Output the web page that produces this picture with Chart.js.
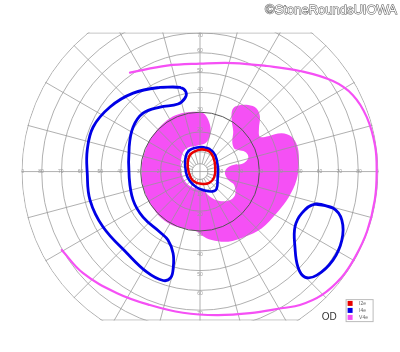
<!DOCTYPE html>
<html lang="en">
<head>
  <meta charset="UTF-8" />
  <title>Goldmann Visual Field OD</title>
  <style>
    * { margin: 0; padding: 0; box-sizing: border-box; }
    body { background: #fff; }
    .chart-box { width: 400px; height: 352px; position: relative; }
  </style>
</head>
<body>
  <div class="chart-box">
    <canvas id="fieldChart"></canvas>
  </div>
  <script src="https://cdn.jsdelivr.net/npm/chart.js"></script>
  <script>
    // isopters, in degrees [x, y] (x: right positive, y: up positive)
    const i2eRed = [
      [0.5, 11.2], [4.4, 10.4], [6.7, 7.3], [7.7, 2.3], [7.2, -2.8], [4.7, -5.7],
      [0.5, -6.2], [-3.7, -4.4], [-5.7, -0.3], [-6.2, 4.8], [-4.5, 9.0]
    ];
    const i4eCenter = [
      [0.5, 12.4], [4.7, 11.5], [7.7, 8.2], [8.9, 3.1], [8.9, -3.6], [8.4, -8.7],
      [6.4, -10.0], [2.2, -9.5], [-2.0, -7.8], [-5.4, -4.4], [-7.1, -0.3],
      [-7.4, 6.5], [-5.4, 10.7]
    ];
    const i4eLeft = [
      [-10.1, 42.5], [-20.2, 42.5], [-33.8, 39.6], [-45.5, 32.6], [-54.0, 22.5],
      [-57.0, 10.9], [-57.0, -0.8], [-55.6, -14.4], [-49.0, -28.0], [-36.9, -41.2],
      [-26.8, -50.8], [-18.7, -55.0], [-14.8, -53.6], [-13.5, -48.2], [-13.6, -41.2],
      [-16.2, -34.6], [-20.2, -30.6], [-28.8, -23.0], [-33.8, -14.4], [-35.8, -2.8],
      [-35.8, 12.4], [-33.8, 22.5], [-28.8, 29.5], [-20.2, 32.6], [-11.1, 34.1],
      [-7.6, 37.1], [-7.1, 40.2]
    ];
    const i4eRight = [
      [58.1, -16.4], [67.2, -18.4], [71.7, -24.5], [71.7, -34.6], [67.2, -44.7],
      [59.1, -52.3], [53.0, -53.3], [49.5, -48.2], [48.0, -38.1], [48.0, -28.0],
      [51.5, -21.0]
    ];
    const v4eOuter = [
      [-35.4, 50.0], [-16.7, 53.5], [0, 54.5], [16.7, 54.8], [33.8, 53.3],
      [50.5, 50.8], [67.2, 45.7], [77.3, 38.6], [84.3, 27.5], [88.5, 13.0],
      [89.3, 0], [88.4, -14.0], [84.5, -30.0], [78.5, -43.0], [71.5, -53.5],
      [61.5, -62.4], [50.5, -67.4], [41.9, -68.9], [25.3, -71.5], [8.6, -72.5],
      [-8.6, -71.3], [-25.3, -67.4], [-41.9, -61.4], [-59.1, -51.3], [-69.9, -39.6]
    ];
    const v4eArea = [
      [-9.3, 29.4], [-3.4, 30.2], [1.7, 29.4], [4.2, 26.0], [5.4, 21.0], [4.6, 16.8],
      [2.5, 14.2], [-1.7, 13.1], [-5.9, 12.2], [-8.4, 10.0], [-9.6, 5.8], [-9.6, 0.8],
      [-8.4, -3.5], [-5.9, -6.8], [-2.5, -8.5], [1.7, -9.7], [5.1, -12.7], [9.3, -14.7],
      [14.3, -14.7], [17.7, -11.9], [17.3, -6.8], [14.3, -4.3], [12.6, -0.9], [13.5, 1.6],
      [16.8, 3.3], [21.0, 3.8], [23.6, 5.5], [24.4, 7.8], [22.7, 10.0], [19.4, 10.9],
      [17.3, 11.7], [16.3, 15.1], [16.8, 20.1], [16.0, 26.0], [16.3, 31.1], [18.5, 33.1],
      [24.4, 33.6], [28.6, 31.9], [30.3, 27.7], [29.8, 21.8], [30.3, 17.6], [34.5, 17.9],
      [41.3, 19.3], [46.3, 17.6], [49.3, 12.5], [50.0, 4.1], [48.8, -4.3], [45.0, -12.7],
      [38.7, -21.1], [31.1, -28.7], [22.7, -32.9], [14.3, -35.4], [5.9, -34.6], [0.8, -32.1],
      [-1.2, -30.4], [-7.6, -28.7], [-14.3, -27.0], [-21.0, -22.0], [-26.1, -14.4],
      [-29.1, -6.0], [-29.5, 2.4], [-28.1, 9.2], [-25.3, 15.9], [-21.0, 21.8], [-15.2, 26.9]
    ];

    // grid
    const circleTicks = [10, 20, 30, 40, 50, 60, 70, 80, 90];
    const verticalTicks = [10, 20, 30, 40, 50, 60, 70];
    const meridians = [0, 15, 30, 45, 60, 75, 90, 105, 120, 135, 150, 165,
                       180, 195, 210, 225, 240, 255, 270, 285, 300, 315, 330, 345];
    const fieldTop = 70, fieldBottom = -75, fieldRadius = 90;

    const legendLabels = ["I2e", "I4e", "V4e"];
    const legendColors = ["#e80000", "#0000e6", "#f550f5"];

    function toPoints(list, closed) {
      const pts = list.map(p => ({ x: p[0], y: p[1] }));
      if (closed) {
        pts.push({ x: list[0][0], y: list[0][1] });
        pts.push({ x: list[1][0], y: list[1][1] });
      }
      return pts;
    }

    function lineSet(label, list, color, width, closed) {
      return {
        label: label,
        data: toPoints(list, closed),
        borderColor: color,
        borderWidth: width,
        pointRadius: 0,
        fill: false,
        tension: 0.4,
        borderCapStyle: "round",
        borderJoinStyle: "round"
      };
    }

    const fieldPlugin = {
      id: "fieldGrid",
      afterDatasetDraw(chart, args) {
        if (args.index !== chart.data.datasets.length - 1) return;
        const ctx = chart.ctx;
        const xs = chart.scales.x, ys = chart.scales.y;
        const cx = xs.getPixelForValue(0), cy = ys.getPixelForValue(0);
        const kx = xs.getPixelForValue(1) - cx, ky = cy - ys.getPixelForValue(1);
        const topPx = ys.getPixelForValue(fieldTop), botPx = ys.getPixelForValue(fieldBottom);

        ctx.save();
        ctx.beginPath();
        ctx.ellipse(cx, cy, fieldRadius * kx + 0.5, fieldRadius * ky + 0.5, 0, 0, Math.PI * 2);
        ctx.clip();
        ctx.beginPath();
        ctx.rect(0, topPx - 0.5, chart.width, botPx - topPx + 1);
        ctx.clip();

        ctx.lineWidth = 1;
        ctx.strokeStyle = "rgba(150,150,150,0.75)";
        // radial lines
        meridians.forEach(a => {
          const t = a * Math.PI / 180;
          const r0 = (a % 90 === 0) ? 0 : 4;
          ctx.beginPath();
          ctx.moveTo(cx + Math.cos(t) * r0 * kx, cy - Math.sin(t) * r0 * ky);
          ctx.lineTo(cx + Math.cos(t) * 95 * kx, cy - Math.sin(t) * 95 * ky);
          ctx.stroke();
        });
        // circles
        [4].concat(circleTicks).forEach(r => {
          if (r === 30) return;
          ctx.beginPath();
          ctx.ellipse(cx, cy, r * kx, r * ky, 0, 0, Math.PI * 2);
          ctx.stroke();
        });
        // edges
        ctx.beginPath();
        ctx.moveTo(0, topPx); ctx.lineTo(chart.width, topPx);
        ctx.moveTo(0, botPx); ctx.lineTo(chart.width, botPx);
        ctx.stroke();
        // 30 degree circle
        ctx.strokeStyle = "#555";
        ctx.beginPath();
        ctx.ellipse(cx, cy, 30 * kx, 30 * ky, 0, 0, Math.PI * 2);
        ctx.stroke();

        // tick labels
        ctx.fillStyle = "#9a9a9a";
        ctx.font = '5px "Liberation Sans", Arial, sans-serif';
        ctx.textAlign = "center";
        ctx.textBaseline = "middle";
        circleTicks.forEach(r => {
          ctx.fillText(String(r), cx - (r + 0.4) * kx, cy);
          ctx.fillText(String(r), cx + (r + 0.4) * kx, cy);
        });
        verticalTicks.forEach(r => {
          ctx.fillText(String(r), cx, cy - Math.min(r + 1.2, fieldTop - 1.2) * ky);
          ctx.fillText(String(r), cx, cy + (r + 1.8) * ky);
        });
        ctx.restore();
      },
      afterDraw(chart) {
        const ctx = chart.ctx;
        const xs = chart.scales.x, ys = chart.scales.y;
        ctx.save();
        // watermark
        ctx.font = '13px "Liberation Sans", Arial, sans-serif';
        ctx.textAlign = "right";
        ctx.textBaseline = "alphabetic";
        ctx.lineWidth = 1;
        ctx.strokeStyle = "#555";
        ctx.strokeText("©StoneRoundsUIOWA", 397, 13.5);
        ctx.fillStyle = "#fbfbfb";
        ctx.fillText("©StoneRoundsUIOWA", 397, 13.5);

        // eye label
        ctx.font = '10px "Liberation Sans", Arial, sans-serif';
        ctx.textAlign = "center";
        ctx.textBaseline = "middle";
        ctx.fillStyle = "#333";
        ctx.fillText("OD", xs.getPixelForValue(65.3), ys.getPixelForValue(-73.4));

        // legend box
        const lx = xs.getPixelForValue(73.6), ly = ys.getPixelForValue(-64.4);
        ctx.strokeStyle = "#bbb";
        ctx.lineWidth = 1;
        ctx.fillStyle = "#fff";
        ctx.fillRect(lx, ly, 27, 22);
        ctx.strokeRect(lx + 0.5, ly + 0.5, 27, 22);
        ctx.font = '5px "Liberation Sans", Arial, sans-serif';
        ctx.textAlign = "left";
        legendLabels.forEach((lab, i) => {
          const ry = ly + 4.3 + i * 7;
          ctx.fillStyle = legendColors[i];
          ctx.fillRect(lx + 2, ry - 2.5, 5, 5);
          ctx.fillStyle = "#666";
          ctx.fillText(lab, lx + 13.5, ry);
        });
        ctx.restore();
      }
    };

    new Chart(document.getElementById("fieldChart"), {
      type: "line",
      data: {
        datasets: [
          lineSet("I2e", i2eRed, legendColors[0], 2.5, true),
          lineSet("I4e", i4eCenter, legendColors[1], 2.6, true),
          lineSet("I4e left", i4eLeft, legendColors[1], 2.8, true),
          lineSet("I4e right", i4eRight, legendColors[1], 2.8, true),
          lineSet("V4e", v4eOuter, legendColors[2], 2.2, false),
          {
            label: "V4e area",
            data: toPoints(v4eArea, true),
            borderWidth: 0,
            borderColor: "rgba(0,0,0,0)",
            backgroundColor: legendColors[2],
            pointRadius: 0,
            tension: 0.35,
            fill: "shape"
          }
        ]
      },
      options: {
        responsive: true,
        maintainAspectRatio: false,
        animation: false,
        events: [],
        layout: { padding: { left: 18, right: 18, top: 29, bottom: 22 } },
        scales: {
          x: { type: "linear", min: -92, max: 92, display: false },
          y: { type: "linear", min: -80, max: 72, display: false }
        },
        plugins: {
          legend: { display: false },
          tooltip: { enabled: false }
        }
      },
      plugins: [fieldPlugin]
    });
  </script>
</body>
</html>
